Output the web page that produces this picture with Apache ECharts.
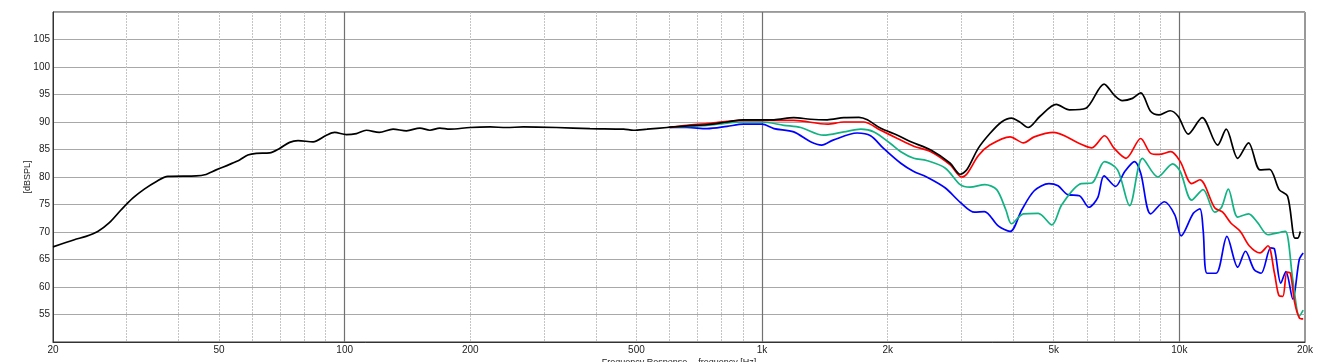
<!DOCTYPE html>
<html>
<head>
<meta charset="utf-8">
<script src="https://cdn.jsdelivr.net/npm/echarts@6/dist/echarts.min.js"></script>
<style>
html,body{margin:0;padding:0;background:#fff;}
#chart{width:1317px;height:362px;}
</style>
</head>
<body>
<div id="chart"></div>
<script>
// ---- data (frequency in Hz, level in dB SPL) ----
const freqBlack = [20,22.5,24,25.6,27.3,29.1,31.1,33.1,35.4,37.7,44.1,46.2,49.2,53,56,58.6,61.4,66.1,69.8,73.8,77.3,84,90.4,94.6,100.9,106.7,112.7,121,130.6,140.6,151.4,160,169,178.6,199.6,223,244,268,322,387,466,492,530,592,661,738,824,902,1000,1068,1191,1307,1433,1571,1707,1788,1925,2111,2273,2538,2824,2985,3095,3296,3515,3749,3960,4145,4340,4630,5070,5450,5970,6600,6980,7300,7720,8080,8540,8940,9500,9940,10500,11340,12350,12950,13800,14650,15600,16450,17340,18170,18920,19210,19490];
const dbBlack = [67.3,68.6,69.2,70.1,71.7,74.0,76.2,77.8,79.2,80.1,80.2,80.4,81.3,82.3,83.1,84.0,84.3,84.4,85.2,86.3,86.6,86.4,87.6,88.1,87.7,87.9,88.5,88.1,88.7,88.4,88.9,88.5,88.9,88.7,89.0,89.1,89.0,89.1,89.0,88.8,88.7,88.5,88.7,89.0,89.3,89.5,90.0,90.4,90.4,90.4,90.8,90.5,90.4,90.8,90.85,90.4,88.85,87.6,86.4,84.9,82.5,80.5,81.3,85.2,87.9,90.0,90.7,90.0,89.0,91.0,93.2,92.2,92.5,96.9,94.9,93.9,94.3,95.3,91.9,91.3,92.05,91.0,87.8,90.8,85.8,88.7,83.4,86.2,81.3,81.4,77.7,76.5,68.9,68.9,70.1];

const freqRed = [600,661,738,824,902,1000,1191,1433,1571,1750,1925,2111,2310,2538,2824,3010,3100,3300,3515,3930,4230,4490,5000,5760,6170,6620,6980,7450,8080,8540,8940,9540,10050,10700,11200,12150,12700,13300,14000,14700,15600,16300,16900,17340,17700,18100,18450,18900,19380,19800];
const dbRed = [89.0,89.4,89.7,90.1,90.3,90.3,90.3,89.6,90.0,90.0,88.5,87.0,85.6,84.6,82.2,80.0,80.6,83.9,85.8,87.3,86.2,87.3,88.1,86.1,85.3,87.5,85.2,83.4,87.0,84.3,84.1,84.6,82.8,78.8,79.5,74.4,73.6,71.6,70.1,67.5,66.2,67.5,62.5,58.4,58.3,62.7,62.5,57.1,54.4,54.2];

const freqGreen = [600,661,738,824,902,1000,1128,1238,1404,1571,1725,1855,2030,2150,2310,2480,2750,2985,3150,3420,3650,3840,3960,4230,4590,4950,5230,5820,6170,6620,7110,7600,8160,8880,9640,10050,10700,11400,12150,12600,13100,13800,14650,15400,16300,17340,17950,18700,19380,19800];
const dbGreen = [89.0,89.2,89.4,89.8,90.0,90.0,89.4,89.0,87.6,88.2,88.7,88.2,86.1,84.6,83.4,83.0,81.6,78.6,78.15,78.6,77.7,74.0,71.5,73.3,73.4,71.3,75.0,78.8,78.9,82.8,81.3,74.8,83.4,80.0,82.4,81.0,75.8,77.7,73.6,74.4,77.8,72.7,73.3,71.7,69.5,69.9,70.1,61.3,54.7,55.8];

const freqBlue = [600,661,738,824,902,1000,1068,1191,1307,1390,1480,1690,1820,1955,2150,2310,2480,2750,2985,3230,3410,3680,3930,4190,4490,4870,5120,5400,5760,6070,6370,6600,7030,7400,7810,8080,8540,9200,9750,10100,10800,11200,11400,11650,12250,13000,13800,14400,15100,15700,16550,16900,17500,18000,18700,19380,19800];
const dbBlue = [89.0,89.0,88.8,89.2,89.6,89.6,88.8,88.2,86.4,85.8,86.7,88.0,87.5,85.2,82.5,81.0,80.0,78.0,75.4,73.6,73.7,71.1,70.1,74.0,77.5,78.8,78.4,76.8,76.6,74.5,76.2,80.2,78.3,81.0,82.8,80.7,73.3,75.5,73.1,69.3,73.4,74.2,70.4,62.5,62.5,69.2,63.6,66.5,63.2,62.5,67.1,66.9,60.7,62.8,57.8,65.0,66.2];

const xLabelFreqs = [20,50,100,200,500,1000,2000,5000,10000,20000];
const minorGridFreqs = [30,40,50,60,70,80,90,200,300,400,500,600,700,800,900,2000,3000,4000,5000,6000,7000,8000,9000];
const majorGridFreqs = [100,1000,10000];
const yTicks = [55,60,65,70,75,80,85,90,95,100,105];

// ---- build ----
const lg = v => Math.log10(v);
const pts = (fs, ds) => fs.map((f, i) => [lg(f), ds[i]]);
const fmtFreq = v => {
  const f = Math.round(Math.pow(10, v));
  return f >= 1000 ? (f / 1000) + 'k' : String(f);
};
const font = 'Liberation Sans, Arial, sans-serif';

const chart = echarts.init(document.getElementById('chart'), null, {renderer: 'canvas'});
const mkLine = (name, color, data, z) => ({
  name, type: 'line', data, xAxisIndex: 0, yAxisIndex: 0,
  showSymbol: false, smooth: 0.3, z,
  lineStyle: {color, width: 1.7},
  itemStyle: {color},
  animation: false
});

chart.setOption({
  animation: false,
  backgroundColor: '#ffffff',
  grid: {left: 53, right: 12, top: 12, bottom: 20, outerBoundsMode: 'none', containLabel: false,
    show: true, borderColor: '#333', borderWidth: 1, backgroundColor: 'transparent'},
  xAxis: [{
    type: 'value', min: lg(20), max: lg(20000), position: 'bottom',
    name: 'Frequency Response -- frequency [Hz]', nameLocation: 'middle', nameGap: 16, nameMoveOverlap: false,
    nameTextStyle: {fontSize: 9, color: '#222', fontFamily: font},
    axisLine: {show: true, lineStyle: {color: '#333'}},
    axisTick: {show: false, customValues: minorGridFreqs.map(lg)},
    axisLabel: {customValues: xLabelFreqs.map(lg), formatter: fmtFreq, fontSize: 10, color: '#222', fontFamily: font, margin: 3, showMinLabel: true, showMaxLabel: true},
    splitLine: {show: true, lineStyle: {color: '#c4c4c4', type: [2, 1], width: 1}}
  }, {
    type: 'value', min: lg(20), max: lg(20000), position: 'bottom',
    axisLine: {show: false}, axisLabel: {show: false},
    axisTick: {show: false, customValues: majorGridFreqs.map(lg)},
    splitLine: {show: true, lineStyle: {color: '#707070', width: 1.2}}
  }],
  yAxis: [{
    type: 'value', min: 50, max: 110, interval: 5,
    name: '[dBSPL]', nameLocation: 'middle', nameGap: 21, nameRotate: 90, nameMoveOverlap: false,
    nameTextStyle: {fontSize: 9, color: '#222', fontFamily: font},
    axisLine: {show: true, lineStyle: {color: '#333'}},
    axisTick: {show: false},
    axisLabel: {fontSize: 10, color: '#222', fontFamily: font, margin: 3,
      formatter: v => yTicks.indexOf(v) >= 0 ? String(v) : ''},
    splitLine: {show: true, lineStyle: {color: '#a8a8a8', width: 1}}
  }],
  series: [
    mkLine('blue', '#0000ff', pts(freqBlue, dbBlue), 2),
    mkLine('green', '#11b383', pts(freqGreen, dbGreen), 3),
    mkLine('red', '#ff0000', pts(freqRed, dbRed), 4),
    mkLine('black', '#000000', pts(freqBlack, dbBlack), 5)
  ]
});
</script>
</body>
</html>
